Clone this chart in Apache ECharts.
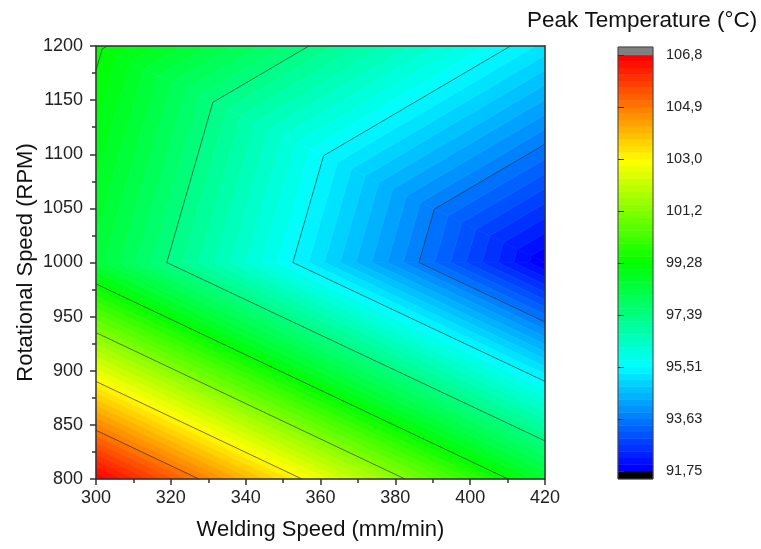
<!DOCTYPE html>
<html><head><meta charset="utf-8">
<script src="https://cdn.jsdelivr.net/npm/echarts@6/dist/echarts.min.js"></script>
<style>html,body{margin:0;padding:0;background:#fff}#c{width:761px;height:549px}</style>
</head><body><div id="c"></div>
<script>
// ---- data ----
const weldingSpeeds = [300, 420];            // mm/min
const rotationalSpeeds = [800, 1000, 1200];  // RPM
// peak temperature (°C): rows = rotational speed, cols = welding speed
const peakTemps = [
  [106.8, 98.6],
  [98.45, 91.75],
  [99.38, 95.19]
];
const colorbarTickValues = [91.75, 93.63125, 95.5125, 97.39375, 99.275, 101.15625, 103.0375, 104.91875, 106.8];
const colorbarTickLabels = ['91,75', '93,63', '95,51', '97,39', '99,28', '101,2', '103,0', '104,9', '106,8'];
const contourLevels = colorbarTickValues.slice(1, -1);
const bandsPerMajor = 8;

// ---- derived geometry (triangulated linear interpolation) ----
const vMin = colorbarTickValues[0], vMax = colorbarTickValues[colorbarTickValues.length - 1];
const nBands = (colorbarTickValues.length - 1) * bandsPerMajor;
const bandStep = (vMax - vMin) / nBands;

const triangles = [];
for (let r = 0; r < rotationalSpeeds.length - 1; r++) {
  for (let c = 0; c < weldingSpeeds.length - 1; c++) {
    const P = (ci, ri) => ({x: weldingSpeeds[ci], y: rotationalSpeeds[ri], v: peakTemps[ri][ci]});
    const p00 = P(c, r), p10 = P(c + 1, r), p01 = P(c, r + 1), p11 = P(c + 1, r + 1);
    triangles.push([p00, p10, p01]);
    triangles.push([p10, p11, p01]);
  }
}
function clip(poly, level, keepAbove) {
  const out = [];
  const n = poly.length;
  for (let i = 0; i < n; i++) {
    const a = poly[i], b = poly[(i + 1) % n];
    const ina = keepAbove ? a.v >= level : a.v <= level;
    const inb = keepAbove ? b.v >= level : b.v <= level;
    if (ina) out.push(a);
    if (ina !== inb) {
      const t = (level - a.v) / (b.v - a.v);
      out.push({x: a.x + t * (b.x - a.x), y: a.y + t * (b.y - a.y), v: level});
    }
  }
  return out;
}
const stops = [[0, [0, 0, 255]], [0.25, [0, 255, 255]], [0.5, [0, 255, 0]], [0.75, [255, 255, 0]], [1, [255, 0, 0]]];
function rainbow(t) {
  for (let i = 0; i < stops.length - 1; i++) {
    const [t0, c0] = stops[i], [t1, c1] = stops[i + 1];
    if (t <= t1 + 1e-9) {
      const f = (t - t0) / (t1 - t0);
      const c = c0.map((v, k) => Math.round(v + f * (c1[k] - v)));
      return 'rgb(' + c.join(',') + ')';
    }
  }
  return 'rgb(255,0,0)';
}
const bandColors = [];
for (let k = 0; k < nBands; k++) bandColors.push(rainbow(k / (nBands - 1)));

const bandPolys = [];
for (let k = 0; k < nBands; k++) {
  const lo = vMin + k * bandStep, hi = lo + bandStep;
  triangles.forEach(tri => {
    const p = clip(clip(tri, lo, true), hi, false);
    if (p.length >= 3) bandPolys.push({pts: p.map(q => [q.x, q.y]), color: bandColors[k]});
  });
}
const segments = [];
contourLevels.forEach(L => {
  triangles.forEach(tri => {
    const pts = [];
    for (let i = 0; i < 3; i++) {
      const a = tri[i], b = tri[(i + 1) % 3];
      if ((a.v - L) * (b.v - L) < 0) {
        const t = (L - a.v) / (b.v - a.v);
        pts.push([a.x + t * (b.x - a.x), a.y + t * (b.y - a.y)]);
      }
    }
    if (pts.length === 2) segments.push(pts);
  });
});

// colorbar items
const cbPad = 0.29;
const cbItems = [];
cbItems.push({lo: vMin - cbPad, hi: vMin, color: '#000'});
for (let k = 0; k < nBands; k++) cbItems.push({lo: vMin + k * bandStep, hi: vMin + (k + 1) * bandStep, color: bandColors[k]});
cbItems.push({lo: vMax, hi: vMax + cbPad, color: '#808080'});

const font = 'Liberation Sans, Arial, sans-serif';
const chart = echarts.init(document.getElementById('c'), null, {renderer: 'canvas'});
const frameLine = {show: true, lineStyle: {color: '#333', width: 1.5}};
chart.setOption({
  animation: false,
  backgroundColor: '#fff',
  title: {text: 'Peak Temperature (°C)', left: 522, top: 4,
    textStyle: {fontFamily: font, fontSize: 22.5, fontWeight: 'normal', color: '#111'}},
  grid: [
    {left: 96, top: 46, width: 449, height: 433, containLabel: false},
    {left: 618, top: 47, width: 35, height: 432, containLabel: false}
  ],
  xAxis: [
    {type: 'value', gridIndex: 0, min: 300, max: 420, interval: 20, position: 'bottom', z: 10,
     name: 'Welding Speed (mm/min)', nameLocation: 'middle', nameGap: 40, nameMoveOverlap: false,
     nameTextStyle: {fontFamily: font, fontSize: 22, color: '#111'},
     axisLine: frameLine, axisTick: {show: true, inside: false, length: 6, lineStyle: {color: '#333', width: 1.5}},
     minorTick: {show: true, splitNumber: 2, length: 4, lineStyle: {color: '#333', width: 1.5}},
     axisLabel: {margin: 10, fontFamily: font, fontSize: 18, color: '#222', formatter: v => String(v)}, splitLine: {show: false}},
    {type: 'value', gridIndex: 0, min: 300, max: 420, position: 'top', z: 10,
     axisLine: frameLine, axisTick: {show: false}, axisLabel: {show: false}, splitLine: {show: false}},
    {type: 'value', gridIndex: 1, min: 0, max: 1, show: false}
  ],
  yAxis: [
    {type: 'value', gridIndex: 0, min: 800, max: 1200, interval: 50, position: 'left', z: 10,
     name: 'Rotational Speed (RPM)', nameLocation: 'middle', nameGap: 59, nameMoveOverlap: false,
     nameTextStyle: {fontFamily: font, fontSize: 22, color: '#111'},
     axisLine: frameLine, axisTick: {show: true, inside: false, length: 6, lineStyle: {color: '#333', width: 1.5}},
     minorTick: {show: true, splitNumber: 2, length: 4, lineStyle: {color: '#333', width: 1.5}},
     axisLabel: {margin: 13, fontFamily: font, fontSize: 18, color: '#222', formatter: v => String(v)}, splitLine: {show: false}},
    {type: 'value', gridIndex: 0, min: 800, max: 1200, position: 'right', z: 10,
     axisLine: frameLine, axisTick: {show: false}, axisLabel: {show: false}, splitLine: {show: false}},
    {type: 'value', gridIndex: 1, min: vMin - cbPad, max: vMax + cbPad, position: 'right', z: 10,
     axisLine: {show: false},
     axisTick: {show: true, inside: false, length: 6, customValues: colorbarTickValues, lineStyle: {color: '#333', width: 1}},
     axisLabel: {show: true, margin: 13, customValues: colorbarTickValues, fontFamily: font, fontSize: 14.5, color: '#222',
       formatter: v => { const i = colorbarTickValues.findIndex(t => Math.abs(t - v) < 1e-6); return i >= 0 ? colorbarTickLabels[i] : ''; }},
     splitLine: {show: false}}
  ],
  series: [
    {type: 'custom', xAxisIndex: 0, yAxisIndex: 0, z: 2, silent: true,
     data: bandPolys.map((p, i) => [p.pts[0][0], p.pts[0][1], i]),
     renderItem: (params, api) => {
       const p = bandPolys[params.dataIndex];
       return {type: 'polygon', shape: {points: p.pts.map(q => api.coord(q))},
               style: {fill: p.color, stroke: p.color, lineWidth: 0.7}};
     }},
    {type: 'custom', xAxisIndex: 0, yAxisIndex: 0, z: 3, silent: true,
     data: segments.map((s, i) => [s[0][0], s[0][1], i]),
     renderItem: (params, api) => {
       const s = segments[params.dataIndex];
       const a = api.coord(s[0]), b = api.coord(s[1]);
       return {type: 'line', shape: {x1: a[0], y1: a[1], x2: b[0], y2: b[1]},
               style: {stroke: 'rgba(40,40,40,0.8)', lineWidth: 0.8}};
     }},
    {type: 'custom', xAxisIndex: 2, yAxisIndex: 2, z: 2, silent: true,
     data: cbItems.map((c, i) => [0.5, (c.lo + c.hi) / 2, i]).concat([[0.5, vMin, cbItems.length]]),
     renderItem: (params, api) => {
       if (params.dataIndex === cbItems.length) {
         const a = api.coord([0, vMax + cbPad]), b = api.coord([1, vMin - cbPad]);
         return {type: 'rect', shape: {x: a[0], y: a[1], width: b[0] - a[0], height: b[1] - a[1]},
                 style: {fill: 'none', stroke: '#444', lineWidth: 1}, z2: 10};
       }
       const c = cbItems[params.dataIndex];
       const a = api.coord([0, c.hi]), b = api.coord([1, c.lo]);
       return {type: 'rect', shape: {x: a[0], y: a[1], width: b[0] - a[0], height: b[1] - a[1]},
               style: {fill: c.color, stroke: c.color, lineWidth: 0.5}};
     }}
  ]
});
</script></body></html>
